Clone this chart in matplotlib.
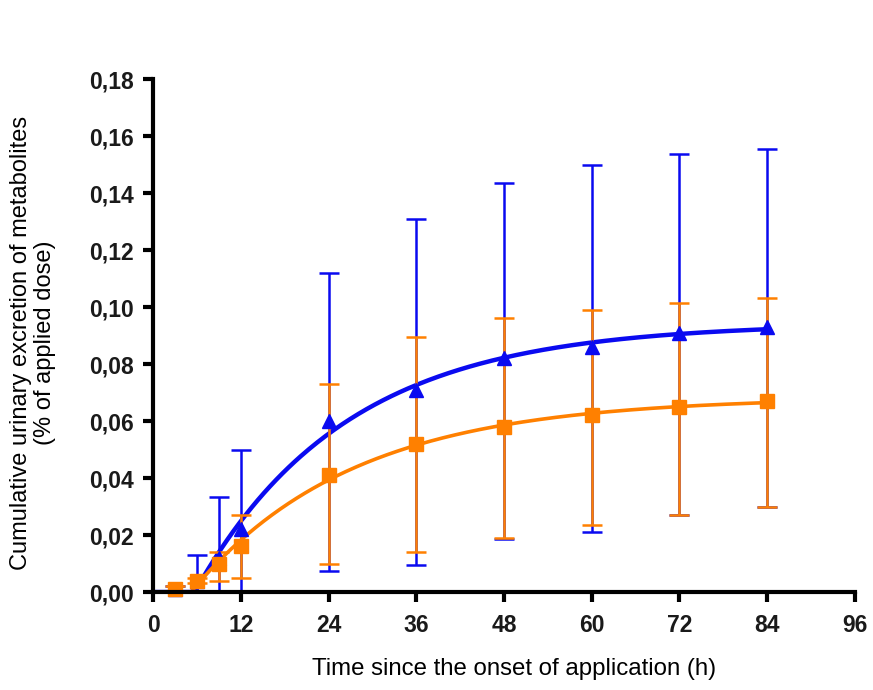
import numpy as np
import matplotlib.pyplot as plt
from matplotlib.ticker import FuncFormatter

plt.rcParams['font.family'] = ['Liberation Sans', 'DejaVu Sans']

# time points (h)
hours = [3, 6, 9, 12, 24, 36, 48, 60, 72, 84]

# blue series (triangles)
blue_mean = [0.001, 0.004, 0.012, 0.022, 0.060, 0.071, 0.082, 0.086, 0.091, 0.093]
blue_upper = [0.002, 0.013, 0.0335, 0.050, 0.112, 0.131, 0.1435, 0.150, 0.1537, 0.1554]
blue_lower = [0.000, 0.000, 0.000, 0.000, 0.0075, 0.0095, 0.0185, 0.021, 0.027, 0.030]

# orange series (squares)
orange_mean = [0.001, 0.004, 0.010, 0.016, 0.041, 0.052, 0.058, 0.062, 0.065, 0.067]
orange_upper = [0.002, 0.005, 0.014, 0.027, 0.073, 0.0895, 0.096, 0.099, 0.1014, 0.103]
orange_lower = [0.000, 0.003, 0.004, 0.005, 0.010, 0.014, 0.0188, 0.0235, 0.027, 0.030]

BLUE = '#0a0af0'
ORANGE = '#ff8000'


def lag_exp_fit(t, y):
    # grid search for y = A * (1 - exp(-k (t - t0))), A by least squares
    t = np.asarray(t, float)
    y = np.asarray(y, float)
    best = None
    for k in np.linspace(0.01, 0.12, 221):
        for t0 in np.linspace(0, 8, 81):
            g = np.clip(1 - np.exp(-k * (t - t0)), 0, None)
            a = (g @ y) / (g @ g)
            err = np.sum((a * g - y) ** 2)
            if best is None or err < best[0]:
                best = (err, a, k, t0)
    _, a, k, t0 = best
    return lambda x: a * np.clip(1 - np.exp(-k * (x - t0)), 0, None)


fig = plt.figure(figsize=(8.73, 6.9), dpi=100)
ax = fig.add_axes([0.1753, 0.142, 0.804, 0.7435])

tt = np.linspace(0, 84, 300)
series = [
    (blue_mean, blue_upper, blue_lower, BLUE, '^', 3.2),
    (orange_mean, orange_upper, orange_lower, ORANGE, 's', 2.6),
]
for mean, up, lo, col, mk, lw in series:
    mean = np.array(mean)
    yerr = [mean - np.array(lo), np.array(up) - mean]
    ax.errorbar(hours, mean, yerr=yerr, fmt=mk, color=col, ms=10,
                elinewidth=1.8, capsize=7, capthick=1.8, clip_on=False)
    f = lag_exp_fit(hours, mean)
    ax.plot(tt, f(tt), color=col, lw=lw, solid_capstyle='butt')

ax.set_xlim(0, 96)
ax.set_ylim(0, 0.18)
ax.set_xticks(np.arange(0, 97, 12))
ax.set_yticks(np.arange(0, 0.181, 0.02))
ax.yaxis.set_major_formatter(FuncFormatter(lambda v, p: f'{v:.2f}'.replace('.', ',')))

for s in ['top', 'right']:
    ax.spines[s].set_visible(False)
for s in ['left', 'bottom']:
    ax.spines[s].set_linewidth(3)
ax.tick_params(direction='out', length=7, width=3, labelsize=16.5,
               colors='black', labelcolor='#1a1a1a')
ax.tick_params(axis='y', pad=7)
ax.tick_params(axis='x', pad=9)
for lab in ax.get_xticklabels() + ax.get_yticklabels():
    lab.set_fontweight('bold')

ax.set_xlabel('Time since the onset of application (h)', fontsize=17.3,
              labelpad=15, x=0.515)
ax.set_ylabel('Cumulative urinary excretion of metabolites\n(% of applied dose)',
              fontsize=17, labelpad=24, linespacing=1.1, y=0.485)

fig.savefig('out.png', dpi=100)
